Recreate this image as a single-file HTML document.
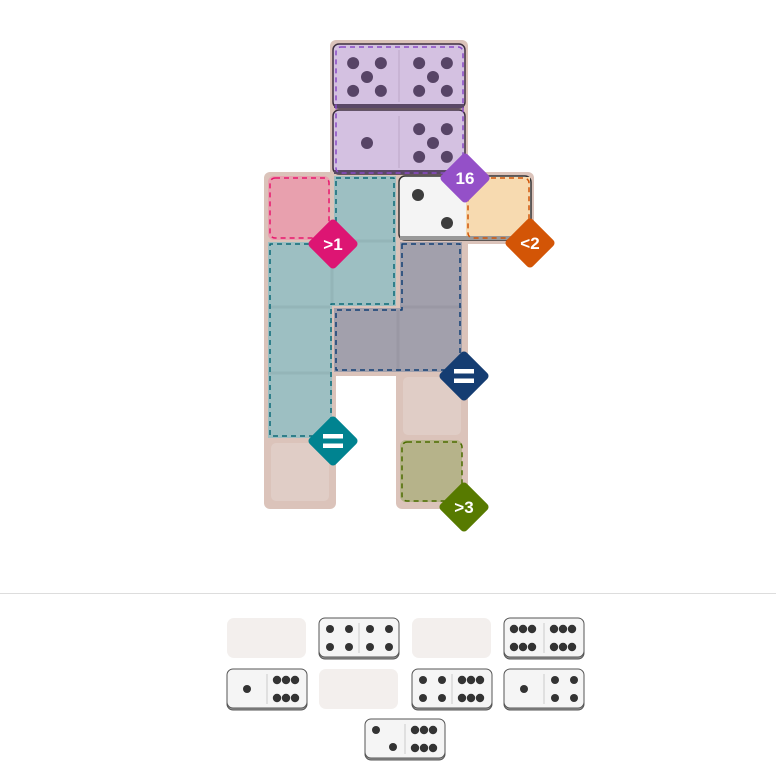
<!DOCTYPE html>
<html><head><meta charset="utf-8"><style>
html,body{margin:0;padding:0;background:#fff;width:776px;height:783px;overflow:hidden}
svg{display:block}
text{font-family:"Liberation Sans",sans-serif;font-weight:bold;fill:#fff}
</style></head><body>
<svg id="s" width="776" height="783" viewBox="0 0 776 783" xmlns="http://www.w3.org/2000/svg">
<g fill="#dbc3ba">
<rect x="330" y="40" width="138" height="140" rx="6"/>
<rect x="264" y="172" width="270" height="72" rx="6"/>
<rect x="264" y="236" width="204" height="140" rx="4"/>
<rect x="264" y="368" width="72" height="141" rx="6"/>
<rect x="396" y="368" width="72" height="141" rx="6"/>
</g>
<g fill="#e0cdc6">
<rect x="403" y="377" width="58" height="58" rx="5"/>
<rect x="271" y="443" width="58" height="58" rx="5"/>
</g>
<rect x="268" y="176" width="62" height="64" rx="6" fill="#e8a0ae"/>
<path d="M334 176H396V306H332V438H268V242H334Z" fill="#9dbfc2"/>
<path d="M400 242H462V372H334V308H400Z" fill="#a2a0ac"/>
<rect x="400" y="440" width="62" height="62" rx="6" fill="#b6b38a"/>
<rect x="466" y="176" width="64" height="64" rx="6" fill="#f7dab0"/>
<g stroke="#94b5b8" stroke-width="3" fill="none">
<line x1="268" y1="307" x2="330" y2="307"/><line x1="268" y1="373" x2="330" y2="373"/>
<line x1="332" y1="244" x2="332" y2="304"/><line x1="334" y1="241" x2="396" y2="241"/>
</g>
<g stroke="#9a98a4" stroke-width="3" fill="none">
<line x1="398" y1="310" x2="398" y2="372"/><line x1="400" y1="307" x2="462" y2="307"/>
</g>
<rect x="333" y="44" width="132" height="64" rx="6" fill="#d4c1e1" stroke="#3e3040" stroke-width="1.5"/>
<rect x="334" y="104" width="130" height="4" fill="#5a4866"/>
<rect x="333" y="110" width="132" height="64" rx="6" fill="#d4c1e1" stroke="#3e3040" stroke-width="1.5"/>
<rect x="334" y="170" width="130" height="4" fill="#5a4866"/>
<line x1="399" y1="50" x2="399" y2="102" stroke="#bba6c8"/>
<line x1="399" y1="116" x2="399" y2="168" stroke="#bba6c8"/>
<rect x="399" y="176" width="132" height="64" rx="6" fill="#f4f4f4" stroke="#333" stroke-width="1.5"/>
<rect x="466" y="177" width="64" height="60" fill="#f7dab0"/>
<rect x="400" y="236" width="130" height="4" fill="#999"/>
<g fill="none" stroke-width="1.5" stroke-dasharray="5,4">
<rect x="336" y="47" width="127" height="126" rx="5" stroke="#8a4bc6"/>
<rect x="270" y="178" width="59" height="60" rx="5" stroke="#e8186e"/>
<path d="M336 178H394V304H331V436H270V244H336Z" stroke="#0c6a78" stroke-linejoin="round"/>
<path d="M402 244H460V370H336V310H402Z" stroke="#123f74" stroke-linejoin="round"/>
<rect x="402" y="442" width="60" height="59" rx="5" stroke="#4b6d00"/>
<rect x="468" y="178" width="61" height="60" rx="5" stroke="#d1560a"/>
</g>
<g id="pips"></g>
<g id="badges"></g>
<line x1="0" y1="593.5" x2="776" y2="593.5" stroke="#ddd"/>
<g id="tray"></g>
</svg>
<script>
var NS="http://www.w3.org/2000/svg";
function el(p,t,a,txt){var e=document.createElementNS(NS,t);for(var k in a)e.setAttribute(k,a[k]);if(txt)e.textContent=txt;p.appendChild(e);return e;}
var P=document.getElementById('pips');
function pips(g,x,y,n,sz,r,col){
 var a=sz*0.29,b=sz*0.5,c=sz*0.71;
 var m={1:[[b,b]],2:[[a,a],[c,c]],3:[[a,a],[b,b],[c,c]],4:[[a,a],[c,a],[a,c],[c,c]],5:[[a,a],[c,a],[b,b],[a,c],[c,c]],6:[[a,a],[b,a],[c,a],[a,c],[b,c],[c,c]]};
 (m[n]||[]).forEach(function(p){el(g,'circle',{cx:x+p[0],cy:y+p[1],r:r,fill:col});});
}
function pips6t(g,x,y,col){[9,18,27].forEach(function(dx){[11,29].forEach(function(dy){el(g,'circle',{cx:x+dx+1,cy:y+dy,r:4.2,fill:col});});});}
var pc="#574466";
pips(P,334,44,5,66,6,pc);pips(P,400,44,5,66,6,pc);
pips(P,334,110,1,66,6,pc);pips(P,400,110,5,66,6,pc);
el(P,'circle',{cx:418,cy:195,r:6,fill:"#3d3d3d"});el(P,'circle',{cx:447,cy:223,r:6,fill:"#3d3d3d"});
var B=document.getElementById('badges');
[[465,178,"#9450c8","16"],[333,244,"#dd1573",">1"],[530,243,"#d35506","<2"],[464,376,"#153d72","="],[333,441,"#008390","="],[464,507,"#577a00",">3"]].forEach(function(b){
 var g=el(B,'g',{});
 el(g,'rect',{x:b[0]-18.5,y:b[1]-18.5,width:37,height:37,rx:4,fill:b[2],transform:"rotate(45 "+b[0]+" "+b[1]+")"});
 if(b[3]=="="){el(g,'rect',{x:b[0]-10,y:b[1]-7,width:20,height:4.5,fill:"#fff"});el(g,'rect',{x:b[0]-10,y:b[1]+2.5,width:20,height:4.5,fill:"#fff"});}
 else el(g,'text',{x:b[0],y:b[1]+6,'text-anchor':'middle','font-size':17},b[3]);
});
var T=document.getElementById('tray');
function dom(x,y,l,r){
 if(l===null){el(T,'rect',{x:x,y:y,width:79,height:40,rx:7,fill:"#f3efed"});return;}
 el(T,'rect',{x:x,y:y+2,width:80,height:39,rx:6,fill:"#999",stroke:"#555"});
 el(T,'rect',{x:x,y:y,width:80,height:39,rx:6,fill:"#f5f5f5",stroke:"#555"});
 el(T,'line',{x1:x+40,y1:y+5,x2:x+40,y2:y+35,stroke:"#ccc"});
 [[l,x],[r,x+40]].forEach(function(h){var n=h[0],hx=h[1],c="#333";
  if(n==6)pips6t(T,hx,y,c);
  else if(n==4){[[10,11],[29,11],[10,29],[29,29]].forEach(function(p){el(T,'circle',{cx:hx+p[0]+1,cy:y+p[1],r:4,fill:c});});}
  else if(n==2){[[11,11],[28,28]].forEach(function(p){el(T,'circle',{cx:hx+p[0],cy:y+p[1],r:4,fill:c});});}
  else if(n==1)el(T,'circle',{cx:hx+20,cy:y+20,r:4,fill:c});
 });
}
dom(227,618,null);dom(319,618,4,4);dom(412,618,null);dom(504,618,6,6);
dom(227,669,1,6);dom(319,669,null);dom(412,669,4,6);dom(504,669,1,4);
dom(365,719,2,6);
</script>
</body></html>
